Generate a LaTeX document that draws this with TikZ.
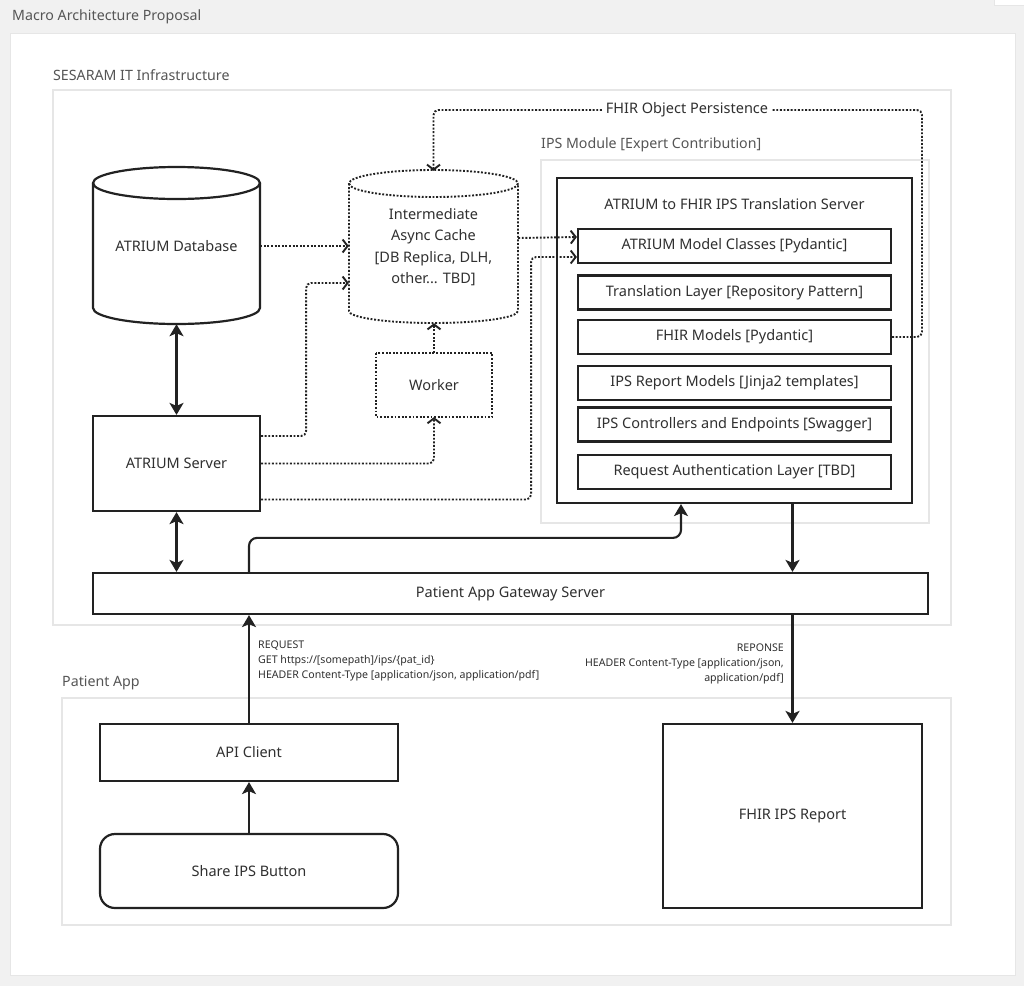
\documentclass[tikz,border=0pt]{standalone}
\usepackage{fontspec}
\setmainfont{Noto Sans}
\usetikzlibrary{arrows.meta}
\definecolor{ink}{HTML}{222222}
\definecolor{txt}{HTML}{303030}
\definecolor{grp}{HTML}{E6E6E6}
\definecolor{bgc}{HTML}{F1F1F1}
\definecolor{gtxt}{HTML}{555555}
\tikzset{
  box/.style={draw=ink, line width=2.2pt, fill=white, inner sep=0pt, text=txt, font=\fontsize{14.5}{18}\selectfont, align=center},
  ghost/.style={inner sep=0pt, text=txt, font=\fontsize{14.5}{21.3}\selectfont, align=center},
  grpbox/.style={draw=grp, line width=1.5pt, fill=white},
  grplbl/.style={anchor=west, inner sep=0pt, text=gtxt, font=\fontsize{14.2}{17}\selectfont},
  cyl/.style={draw=ink, line width=2.2pt, fill=white},
  dcyl/.style={draw=ink, line width=1.9pt, dash pattern=on 1.9pt off 1.7pt, fill=white},
  sarrow/.style={draw=ink, line width=2.1pt, -{Stealth[length=12pt,width=14pt,inset=3pt]}},
  sboth/.style={draw=ink, line width=2.1pt, {Stealth[length=12pt,width=14pt,inset=3pt]}-{Stealth[length=12pt,width=14pt,inset=3pt]}},
  darrow/.style={draw=ink, line width=1.9pt, dash pattern=on 1.9pt off 1.7pt, rounded corners=5pt, -{Straight Barb[length=5pt,width=13pt]}},
  small/.style={inner sep=0pt, text=txt, font=\fontsize{10.6}{15}\selectfont}
}
\begin{document}
\begin{tikzpicture}[x=1pt,y=-1pt]
% background
\fill[bgc] (0,0) rectangle (1024,986);
\useasboundingbox (0,0) rectangle (1024,986);
\fill[white, draw=grp, line width=1pt] (994,-5) rectangle (1030,5);
\fill[white, draw=grp, line width=1pt] (10,33) rectangle (1015,975);
\node[grplbl] (title) at (12,17) {Macro Architecture Proposal};

% groups
\draw[grpbox] (53,90) rectangle (951,625);
\node[grplbl] (gl1) at (53,75) {SESARAM IT Infrastructure};
\draw[grpbox] (541,160) rectangle (929,523);
\node[grplbl] (gl2) at (541,145) {IPS Module [Expert Contribution]};
\draw[grpbox] (62,698) rectangle (951,925);
\node[grplbl] (gl3) at (62,683) {Patient App};

% ATRIUM Database cylinder
\path[cyl, draw=none] (93,183) -- (93,308) arc[start angle=180,end angle=0,x radius=83.5,y radius=16] -- (260,183) -- cycle;
\draw[cyl] (176.5,183) ellipse[x radius=83.5,y radius=16];
\draw[cyl,fill=none] (93,183) -- (93,308) arc[start angle=180,end angle=0,x radius=83.5,y radius=16] -- (260,183);
\node[ghost, minimum width=167pt, minimum height=156pt] (db) at (176.5,246) {ATRIUM Database};

% Intermediate cache cylinder (dotted)
\path[fill=white] (349,183.5) -- (349,311) arc[start angle=180,end angle=0,x radius=84.5,y radius=12] -- (518,183.5) -- cycle;
\draw[dcyl] (433.5,183.5) ellipse[x radius=84.5,y radius=13.5];
\draw[dcyl,fill=none] (349,183.5) -- (349,311) arc[start angle=180,end angle=0,x radius=84.5,y radius=12] -- (518,183.5);
\node[ghost, minimum width=169pt, minimum height=152pt] (cache) at (433.5,247) {Intermediate\\Async Cache\\{}[DB Replica, DLH,\\other... TBD]};

% Worker
\node[box, draw=none, minimum width=114pt, minimum height=62pt] (worker) at (434,385) {Worker};
\draw[draw=ink, line width=1.9pt, dash pattern=on 1.9pt off 1.7pt] (worker.north west) rectangle (worker.south east);

% ATRIUM Server
\node[box, minimum width=167pt, minimum height=95pt] (srv) at (176.5,463.5) {ATRIUM Server};

% Translation server
\node[box, minimum width=355pt, minimum height=325pt] (ts) at (734.5,340.5) {};
\node[ghost, font=\fontsize{14.5}{18}\selectfont] (tstitle) at (734.5,204) {ATRIUM to FHIR IPS Translation Server};
\node[box, minimum width=313pt, minimum height=34pt] (amc) at (734.5,246) {ATRIUM Model Classes [Pydantic]};
\node[box, minimum width=313pt, minimum height=34pt] (tl) at (734.5,292.5) {Translation Layer [Repository Pattern]};
\node[box, minimum width=313pt, minimum height=34pt] (fm) at (734.5,337) {FHIR Models [Pydantic]};
\node[box, minimum width=313pt, minimum height=34pt] (irm) at (734.5,383) {IPS Report Models [Jinja2 templates]};
\node[box, minimum width=313pt, minimum height=34pt] (ice) at (734.5,424.5) {IPS Controllers and Endpoints [Swagger]};
\node[box, minimum width=313pt, minimum height=34pt] (ral) at (734.5,472) {Request Authentication Layer [TBD]};

% Gateway
\node[box, minimum width=835pt, minimum height=41pt] (gw) at (510.5,593.5) {Patient App Gateway Server};

% Patient app
\node[box, minimum width=298pt, minimum height=57pt] (api) at (249,752.5) {API Client};
\node[box, rounded corners=15pt, minimum width=298pt, minimum height=74pt] (share) at (249,871) {Share IPS Button};
\node[box, minimum width=259pt, minimum height=184pt] (report) at (792.5,816) {FHIR IPS Report};

% solid connectors
\draw[sboth] (db.south) -- (srv.north);
\draw[sboth] (srv.south) -- (srv.south |- gw.north);
\draw[sarrow, rounded corners=8pt] (api.north |- gw.north) -- ++(0,-34) -| ([xshift=-53.5pt]ts.south);
\draw[sarrow] (report.north |- ts.south) -- (report.north |- gw.north);
\draw[sarrow] (report.north |- gw.south) -- (report.north);
\draw[sarrow] (api.north) -- (api.north |- gw.south);
\draw[sarrow] (share.north) -- (api.south);

% dotted connectors
\draw[darrow] (db.east) -- (db.east -| cache.west);
\draw[darrow] ([yshift=27.5pt]srv.east) -- ++(45,0) |- ([yshift=-36pt]cache.west);
\draw[darrow] (srv.east) -| (worker.south);
\draw[darrow] ([yshift=-36pt]srv.east) -- ++(270,0) |- ([yshift=-11pt]amc.west);
\draw[darrow] ([yshift=9pt]cache.east) -- ([yshift=9pt]amc.west);
\draw[darrow] (worker.north) -- (worker.north |- cache.south);
\coordinate (ptop) at (922,110);
\draw[darrow] (fm.east) -| (ptop) -| (cache.north);
\node[ghost, fill=white, inner xsep=4pt, inner ysep=1pt, font=\fontsize{14.5}{18}\selectfont] (fop) at (687,110) {FHIR Object Persistence};

% labels
\node[small, anchor=north west, align=left] (req) at (258,641) {REQUEST\\GET https://[somepath]/ips/\{pat\_id\}\\HEADER Content-Type [application/json, application/pdf]};
\node[small, anchor=north east, align=right] (resp) at (784,643.5) {REPONSE\\HEADER Content-Type [application/json,\\application/pdf]};
\end{tikzpicture}
\end{document}
